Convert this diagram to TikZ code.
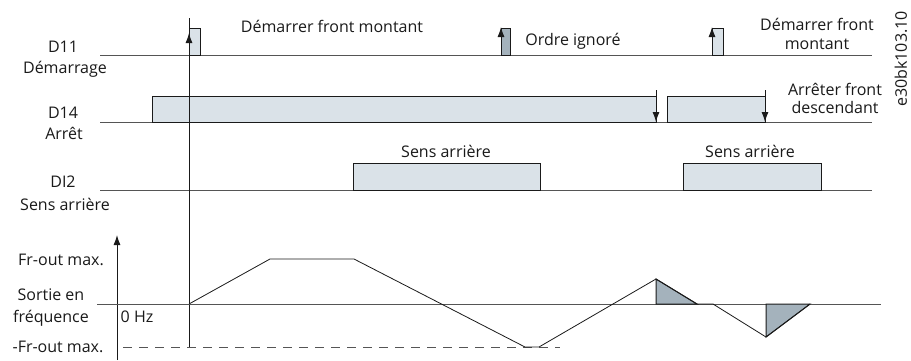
\documentclass[tikz,border=0pt]{standalone}
\usepackage{fontspec}
\setmainfont{Open Sans}
\usetikzlibrary{arrows.meta}
\definecolor{tmgFill}{HTML}{DAE2E8}
\definecolor{tmgDark}{HTML}{A4B2BC}
\definecolor{tmgLine}{HTML}{555555}
\definecolor{tmgInk}{HTML}{1A1A1A}
\begin{document}
\begin{tikzpicture}[x=1pt,y=-1pt,>={Latex[length=10pt,width=7pt]},line join=miter]
\useasboundingbox[fill=white] (0,0) rectangle (911,360);
\tikzset{track/.style={draw=tmgLine,line width=1pt},pulse/.style={draw=tmgInk,fill=tmgFill,line width=0.9pt},ignored/.style={draw=tmgInk,fill=tmgDark,line width=0.9pt},curve/.style={draw=tmgInk,line width=0.8pt},lbl/.style={font=\fontsize{16}{18}\selectfont,text=tmgInk,inner sep=0pt,anchor=base}}
% signal tracks
\draw[track] (100,55) -- (872,55); \draw[track] (100,122) -- (872,122); \draw[track] (100,190) -- (872,190);
\node[lbl] (d11) at (63,52) {D11}; \node[lbl] (d11b) at (65,73) {Démarrage};
\node[lbl] (d14) at (63,118) {D14}; \node[lbl] (d14b) at (64,139) {Arrêt};
\node[lbl] (di2) at (63,187) {DI2}; \node[lbl] (di2b) at (65,210) {Sens arrière};
% D11 pulses
\draw[pulse] (189,55) rectangle (200,28); \draw[ignored] (501,55) rectangle (510,28); \draw[pulse] (712,55) rectangle (723,28);
\draw[->,tmgInk,line width=1pt] (189,55) -- (189,33); \draw[->,tmgInk,line width=1pt] (501,55) -- (501,27); \draw[->,tmgInk,line width=1pt] (712,55) -- (712,27);
\node[lbl] (start1) at (332,32) {Démarrer front montant}; \node[lbl] (ignore) at (573,45) {Ordre ignoré};
\node[lbl] (start2) at (817,30) {Démarrer front}; \node[lbl] (start2b) at (817,49) {montant};
% D14 pulses
\draw[pulse] (152,122) rectangle (656,96); \draw[pulse] (667,122) rectangle (765,96);
\draw[->,tmgInk,line width=1pt] (656,90) -- (656,122); \draw[->,tmgInk,line width=1pt] (765,90) -- (765,122);
\node[lbl] (stop) at (835,95) {Arrêter front}; \node[lbl] (stopb) at (835,113) {descendant};
% DI2 pulses
\draw[pulse] (353,190) rectangle (540,163); \draw[pulse] (683,190) rectangle (821,163);
\node[lbl] (rev1) at (446,157) {Sens arrière}; \node[lbl] (rev2) at (750,157) {Sens arrière};
% output frequency
\draw[tmgInk,line width=1pt] (189,18) -- (189,347);
\draw[->,tmgInk,line width=1pt] (117,360) -- (117,235);
\draw[track] (97,304) -- (881,304); \draw[tmgLine,line width=1pt,dash pattern=on 9pt off 7pt] (123,347) -- (560,347);
\node[lbl] (fmax) at (61,265) {Fr-out max.}; \node[lbl] (fout) at (51,300) {Sortie en}; \node[lbl] (foutb) at (51,322) {fréquence};
\node[lbl] (zero) at (137,322) {0 Hz}; \node[lbl] (fmin) at (58,352) {-Fr-out max.};
\draw[ignored,line width=1pt] (656,279) -- (697,304) -- (656,304) -- cycle; \draw[ignored,line width=1pt] (766,337) -- (810,304) -- (766,304) -- cycle;
\draw[curve] (189,304) -- (270,259) -- (354,259) -- (525,347) -- (539,347) -- (656,279) -- (697,304) -- (713,304) -- (766,337) -- (810,304);
\node[lbl,anchor=center,rotate=90] (code) at (901,59) {e30bk103.10};
\end{tikzpicture}
\end{document}
